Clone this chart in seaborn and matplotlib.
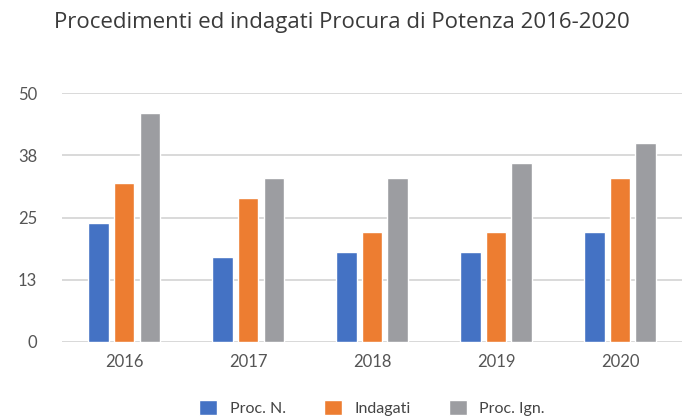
import numpy as np
import pandas as pd
import matplotlib.pyplot as plt
import seaborn as sns

# data
years = ['2016', '2017', '2018', '2019', '2020']
proc_n = [24, 17, 18, 18, 22]
indagati = [32, 29, 22, 22, 33]
proc_ign = [46, 33, 33, 36, 40]
series = ['Proc. N.', 'Indagati', 'Proc. Ign.']
colors = ['#4472C4', '#ED7D31', '#9C9DA1']
yticks = [0, 12.5, 25, 37.5, 50]
ytick_labels = ['0', '13', '25', '38', '50']

df = pd.DataFrame({
    'anno': years * 3,
    'valore': proc_n + indagati + proc_ign,
    'serie': np.repeat(series, len(years)),
})

sns.set_theme(style='white')
plt.rcParams['font.family'] = ['Lato', 'DejaVu Sans']

fig = plt.figure(figsize=(6.84, 4.18), dpi=100)
ax = fig.add_axes([0.091, 0.182, 0.906, 0.595])

sns.barplot(data=df, x='anno', y='valore', hue='serie', palette=colors,
            width=0.62, gap=0.2, saturation=1, ax=ax, legend=True)

ax.set_ylim(0, 50)
ax.set_yticks(yticks)
ax.set_yticklabels(ytick_labels)
ax.yaxis.grid(True, color='#d9d9d9', linewidth=1.4)
ax.set_axisbelow(True)
for s in ax.spines.values():
    s.set_visible(False)
ax.axhline(0, color='#d9d9d9', linewidth=1.4, zorder=0)
ax.set_xlabel('')
ax.set_ylabel('')
ax.tick_params(axis='both', length=0, labelsize=12, labelcolor='#555555')
ax.tick_params(axis='y', pad=18)
ax.tick_params(axis='x', pad=9)

fig.suptitle('Procedimenti ed indagati Procura di Potenza 2016-2020',
             x=0.5, y=0.972, fontsize=16, color='#3a3a3a',
             family=['Open Sans', 'DejaVu Sans'])

handles, labels = ax.get_legend_handles_labels()
ax.legend(handles, labels, loc='center', bbox_to_anchor=(0.5, -0.265), ncol=3,
          frameon=False, fontsize=11.5, handlelength=1.1, handleheight=1.1,
          columnspacing=2.4, handletextpad=0.8, labelcolor='#444444')

fig.savefig('out.png', dpi=100)
